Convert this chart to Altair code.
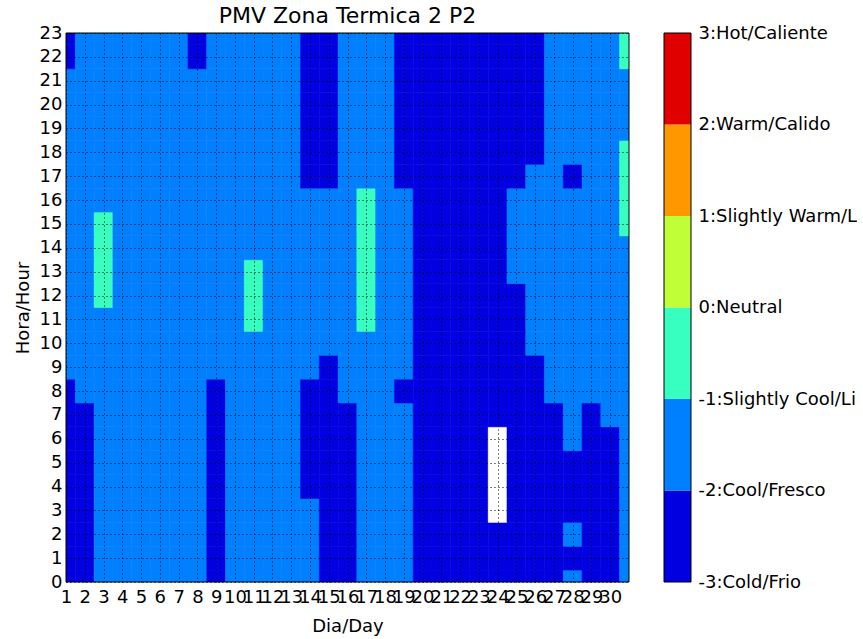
import altair as alt
import pandas as pd

# ---- data -------------------------------------------------------------
days = list(range(1, 32))
hours = list(range(0, 24))

pmv_h00 = [-2.3, -2.1, -1.7, -1.7, -1.8, -1.8, -1.8, -1.9, -2.2, -1.8, -1.7, -1.7, -1.8, -1.9, -2.3, -2.1, -1.7, -1.8, -1.9, -2.3, -2.5, -2.6, -2.7, -2.7, -2.6, -2.4, -2.1, -1.9, -2.3, -2.02, -1.7]
pmv_h01 = [-2.3, -2.1, -1.7, -1.7, -1.8, -1.8, -1.8, -1.9, -2.3, -1.8, -1.7, -1.7, -1.8, -1.9, -2.4, -2.1, -1.7, -1.8, -1.9, -2.3, -2.6, -2.7, -2.8, -2.8, -2.7, -2.4, -2.2, -2.03, -2.3, -2.05, -1.7]
pmv_h02 = [-2.3, -2.1, -1.7, -1.7, -1.8, -1.8, -1.8, -1.9, -2.3, -1.8, -1.7, -1.7, -1.8, -1.9, -2.4, -2.1, -1.7, -1.8, -1.9, -2.3, -2.6, -2.7, -2.8, -2.9, -2.7, -2.4, -2.2, -1.95, -2.4, -2.05, -1.7]
pmv_h03 = [-2.3, -2.1, -1.7, -1.7, -1.8, -1.8, -1.8, -1.95, -2.3, -1.8, -1.7, -1.7, -1.8, -1.95, -2.4, -2.1, -1.7, -1.8, -1.9, -2.3, -2.6, -2.7, -2.8, -3.05, -2.7, -2.4, -2.2, -2.01, -2.4, -2.1, -1.7]
pmv_h04 = [-2.3, -2.1, -1.7, -1.7, -1.8, -1.8, -1.8, -1.98, -2.3, -1.8, -1.7, -1.7, -1.8, -2.02, -2.4, -2.1, -1.7, -1.8, -1.9, -2.3, -2.6, -2.7, -2.8, -3.1, -2.7, -2.4, -2.2, -2.05, -2.4, -2.1, -1.7]
pmv_h05 = [-2.3, -2.1, -1.7, -1.7, -1.8, -1.8, -1.8, -1.99, -2.3, -1.8, -1.7, -1.7, -1.8, -2.05, -2.4, -2.1, -1.7, -1.8, -1.9, -2.3, -2.6, -2.7, -2.8, -3.1, -2.7, -2.4, -2.2, -2.02, -2.4, -2.1, -1.7]
pmv_h06 = [-2.3, -2.1, -1.7, -1.7, -1.8, -1.8, -1.8, -1.99, -2.3, -1.8, -1.7, -1.7, -1.8, -2.05, -2.4, -2.1, -1.7, -1.8, -1.9, -2.3, -2.6, -2.7, -2.7, -3.02, -2.6, -2.4, -2.2, -1.95, -2.3, -2.05, -1.7]
pmv_h07 = [-2.3, -2.05, -1.7, -1.7, -1.8, -1.8, -1.8, -1.98, -2.2, -1.8, -1.7, -1.7, -1.8, -2.05, -2.3, -2.05, -1.7, -1.8, -1.95, -2.3, -2.5, -2.6, -2.6, -2.6, -2.5, -2.3, -2.1, -1.9, -2.2, -1.95, -1.7]
pmv_h08 = [-2.05, -1.9, -1.7, -1.7, -1.8, -1.8, -1.8, -1.9, -2.05, -1.8, -1.7, -1.7, -1.8, -2.02, -2.2, -1.9, -1.7, -1.8, -2.02, -2.3, -2.5, -2.6, -2.6, -2.5, -2.4, -2.2, -1.95, -1.8, -1.98, -1.8, -1.6]
pmv_h09 = [-1.9, -1.8, -1.7, -1.7, -1.8, -1.8, -1.8, -1.9, -1.95, -1.7, -1.6, -1.7, -1.8, -1.9, -2.05, -1.8, -1.6, -1.7, -1.95, -2.2, -2.5, -2.6, -2.6, -2.5, -2.3, -2.05, -1.9, -1.8, -1.8, -1.6, -1.5]
pmv_h10 = [-1.9, -1.8, -1.6, -1.7, -1.8, -1.8, -1.8, -1.9, -1.9, -1.7, -1.3, -1.7, -1.8, -1.8, -1.9, -1.7, -1.4, -1.7, -1.9, -2.1, -2.4, -2.6, -2.6, -2.4, -2.2, -1.9, -1.8, -1.7, -1.6, -1.5, -1.5]
pmv_h11 = [-1.9, -1.8, -1.1, -1.6, -1.8, -1.8, -1.8, -1.9, -1.8, -1.6, -0.95, -1.6, -1.8, -1.8, -1.8, -1.6, -0.98, -1.6, -1.8, -2.1, -2.4, -2.6, -2.6, -2.4, -2.1, -1.8, -1.7, -1.7, -1.6, -1.5, -1.4]
pmv_h12 = [-1.9, -1.7, -0.85, -1.6, -1.8, -1.8, -1.8, -1.9, -1.8, -1.6, -0.9, -1.6, -1.8, -1.8, -1.8, -1.5, -0.75, -1.5, -1.8, -2.05, -2.4, -2.6, -2.6, -2.4, -2.05, -1.7, -1.7, -1.7, -1.6, -1.5, -1.4]
pmv_h13 = [-1.9, -1.7, -0.7, -1.6, -1.8, -1.8, -1.8, -1.9, -1.8, -1.6, -0.95, -1.6, -1.8, -1.8, -1.8, -1.5, -0.6, -1.5, -1.8, -2.05, -2.4, -2.6, -2.6, -2.3, -1.95, -1.6, -1.7, -1.7, -1.6, -1.5, -1.3]
pmv_h14 = [-1.9, -1.7, -0.7, -1.6, -1.8, -1.8, -1.8, -1.9, -1.8, -1.7, -1.4, -1.7, -1.8, -1.8, -1.8, -1.5, -0.6, -1.5, -1.8, -2.05, -2.4, -2.6, -2.6, -2.3, -1.9, -1.6, -1.7, -1.7, -1.6, -1.4, -1.05]
pmv_h15 = [-1.9, -1.7, -0.8, -1.6, -1.8, -1.8, -1.8, -1.9, -1.8, -1.7, -1.5, -1.7, -1.8, -1.8, -1.8, -1.5, -0.7, -1.5, -1.8, -2.1, -2.4, -2.6, -2.6, -2.3, -1.9, -1.6, -1.7, -1.7, -1.6, -1.3, -0.9]
pmv_h16 = [-1.9, -1.8, -1.05, -1.7, -1.8, -1.8, -1.8, -1.9, -1.8, -1.7, -1.6, -1.8, -1.9, -1.9, -1.9, -1.7, -0.95, -1.6, -1.9, -2.2, -2.5, -2.6, -2.6, -2.4, -1.95, -1.7, -1.7, -1.8, -1.6, -1.3, -0.9]
pmv_h17 = [-1.9, -1.8, -1.6, -1.7, -1.8, -1.8, -1.8, -1.9, -1.8, -1.7, -1.7, -1.8, -1.9, -2.05, -2.1, -1.8, -1.4, -1.8, -2.05, -2.4, -2.6, -2.6, -2.6, -2.5, -2.2, -1.9, -1.8, -2.02, -1.6, -1.3, -0.9]
pmv_h18 = [-1.9, -1.8, -1.7, -1.7, -1.8, -1.8, -1.8, -1.9, -1.8, -1.7, -1.7, -1.8, -1.9, -2.2, -2.3, -1.8, -1.6, -1.9, -2.15, -2.5, -2.6, -2.6, -2.6, -2.5, -2.3, -2.05, -1.8, -1.7, -1.5, -1.3, -0.95]
pmv_h19 = [-1.9, -1.8, -1.7, -1.7, -1.8, -1.8, -1.8, -1.9, -1.8, -1.7, -1.7, -1.8, -1.9, -2.2, -2.3, -1.8, -1.7, -1.9, -2.2, -2.5, -2.6, -2.6, -2.6, -2.5, -2.4, -2.1, -1.8, -1.6, -1.5, -1.3, -1.1]
pmv_h20 = [-1.9, -1.8, -1.7, -1.7, -1.8, -1.8, -1.8, -1.9, -1.8, -1.7, -1.7, -1.8, -1.9, -2.2, -2.3, -1.8, -1.7, -1.9, -2.2, -2.5, -2.6, -2.6, -2.6, -2.5, -2.4, -2.1, -1.8, -1.6, -1.5, -1.3, -1.1]
pmv_h21 = [-1.9, -1.8, -1.7, -1.7, -1.8, -1.8, -1.8, -1.9, -1.8, -1.7, -1.7, -1.8, -1.9, -2.2, -2.3, -1.8, -1.7, -1.9, -2.2, -2.5, -2.6, -2.6, -2.6, -2.5, -2.4, -2.1, -1.8, -1.6, -1.5, -1.3, -1.1]
pmv_h22 = [-2.05, -1.8, -1.7, -1.7, -1.8, -1.8, -1.9, -2.05, -1.8, -1.7, -1.7, -1.8, -1.9, -2.2, -2.3, -1.8, -1.7, -1.9, -2.2, -2.5, -2.6, -2.6, -2.6, -2.5, -2.4, -2.1, -1.8, -1.6, -1.5, -1.3, -0.9]
pmv_h23 = [-2.1, -1.8, -1.7, -1.7, -1.8, -1.8, -1.9, -2.1, -1.8, -1.7, -1.7, -1.8, -1.9, -2.2, -2.3, -1.8, -1.7, -1.9, -2.2, -2.5, -2.6, -2.6, -2.6, -2.5, -2.4, -2.1, -1.8, -1.6, -1.5, -1.3, -0.8]

pmv_by_hour = [pmv_h00, pmv_h01, pmv_h02, pmv_h03, pmv_h04, pmv_h05, pmv_h06, pmv_h07,
               pmv_h08, pmv_h09, pmv_h10, pmv_h11, pmv_h12, pmv_h13, pmv_h14, pmv_h15,
               pmv_h16, pmv_h17, pmv_h18, pmv_h19, pmv_h20, pmv_h21, pmv_h22, pmv_h23]

band_edges = [-3, -2, -1, 0, 1, 2, 3]
band_colors = ["#0000e0", "#0080ff", "#37ffc0", "#c0ff37", "#ff9700", "#e00000"]
band_labels = ["-3:Cold/Frio", "-2:Cool/Fresco", "-1:Slightly Cool/Li", "0:Neutral",
               "1:Slightly Warm/L", "2:Warm/Calido", "3:Hot/Caliente"]
x_ticks = list(range(1, 31))

# ---- tables -------------------------------------------------------------
rows = []
for h, vals in zip(hours, pmv_by_hour):
    for d, v in zip(days, vals):
        rows.append({"day": d, "hour": h, "pmv": v,
                     "d0": d - 0.5, "d1": d + 0.5, "h0": h - 0.5, "h1": h + 0.5})
grid_df = pd.DataFrame(rows)

cb_df = pd.DataFrame({"lo": band_edges[:-1], "hi": band_edges[1:], "color": band_colors,
                      "c0": [0] * 6, "c1": [1] * 6})
frame_df = pd.DataFrame({"d0": [days[0]], "d1": [days[-1]], "h0": [hours[0]], "h1": [hours[-1]]})
cb_frame_df = pd.DataFrame({"c0": [0], "c1": [1], "lo": [band_edges[0]], "hi": [band_edges[-1]]})

FONT = "DejaVu Sans"
PLOT_W, PLOT_H = 563, 549

color_scale = alt.Scale(type="threshold", domain=band_edges[:-1],
                        range=["#ffffff"] + band_colors)

x_scale = alt.Scale(domain=[1, 31], nice=False, zero=False)
y_scale = alt.Scale(domain=[0, 23], nice=False, zero=False)

grid_style = dict(grid=True, gridColor="black", gridDash=[1, 3], gridOpacity=1,
                  gridWidth=1, zindex=1, labelFlush=False, labelOverlap=False,
                  format="d", tickSize=0, domain=False)
x_axis = alt.Axis(values=x_ticks, title="Dia/Day", titlePadding=11, labelPadding=6,
                  **grid_style)
y_axis = alt.Axis(values=hours, title="Hora/Hour", titlePadding=7, labelPadding=4,
                  **grid_style)

heat = alt.Chart(grid_df).mark_rect(clip=True, strokeWidth=0.6).encode(
    x=alt.X("d0:Q", scale=x_scale, axis=x_axis),
    x2="d1:Q",
    y=alt.Y("h0:Q", scale=y_scale, axis=y_axis),
    y2="h1:Q",
    color=alt.Color("pmv:Q", scale=color_scale, legend=None),
    stroke=alt.Stroke("pmv:Q", scale=color_scale, legend=None),
)

frame = alt.Chart(frame_df).mark_rect(
    fillOpacity=0, stroke="black", strokeWidth=1
).encode(
    x=alt.X("d0:Q", scale=x_scale, axis=x_axis), x2="d1:Q",
    y=alt.Y("h0:Q", scale=y_scale, axis=y_axis), y2="h1:Q",
)

main = alt.layer(heat, frame).properties(
    width=PLOT_W, height=PLOT_H,
    title=alt.TitleParams("PMV Zona Termica 2 P2", font=FONT, fontSize=22,
                          fontWeight="normal", color="black", anchor="middle", offset=-4),
)

label_expr = " : ".join(
    f"datum.value == {v} ? '{t}'" for v, t in zip(band_edges[:-1], band_labels[:-1])
) + f" : '{band_labels[-1]}'"

cb_x = alt.Scale(domain=[0, 1], nice=False, zero=False)
cb_y = alt.Scale(domain=[-3, 3], nice=False, zero=False)
cb_axis = alt.Axis(orient="right", values=band_edges, labelExpr=label_expr,
                   title=None, grid=False, labelPadding=7, labelFlush=False,
                   labelOverlap=False, tickSize=0, domain=False)
cb_bands = alt.Chart(cb_df).mark_rect().encode(
    x=alt.X("c0:Q", scale=cb_x, axis=None),
    x2="c1:Q",
    y=alt.Y("lo:Q", scale=cb_y, axis=cb_axis),
    y2="hi:Q",
    color=alt.Color("color:N", scale=None, legend=None),
)
cb_frame = alt.Chart(cb_frame_df).mark_rect(
    fillOpacity=0, stroke="black", strokeWidth=1
).encode(
    x=alt.X("c0:Q", scale=cb_x, axis=None), x2="c1:Q",
    y=alt.Y("lo:Q", scale=cb_y, axis=cb_axis), y2="hi:Q",
)
colorbar = alt.layer(cb_bands, cb_frame).properties(width=27, height=PLOT_H)

chart = alt.hconcat(main, colorbar, spacing=33).properties(
    padding={"left": 14, "top": 5, "right": 0, "bottom": 2},
    background="white",
).configure_view(stroke=None).configure_axis(
    labelFont=FONT, labelFontSize=18, labelColor="black",
    titleFont=FONT, titleFontSize=18, titleFontWeight="normal", titleColor="black",
)

chart.save("out.html", embed_options={"renderer": "svg", "actions": False})
